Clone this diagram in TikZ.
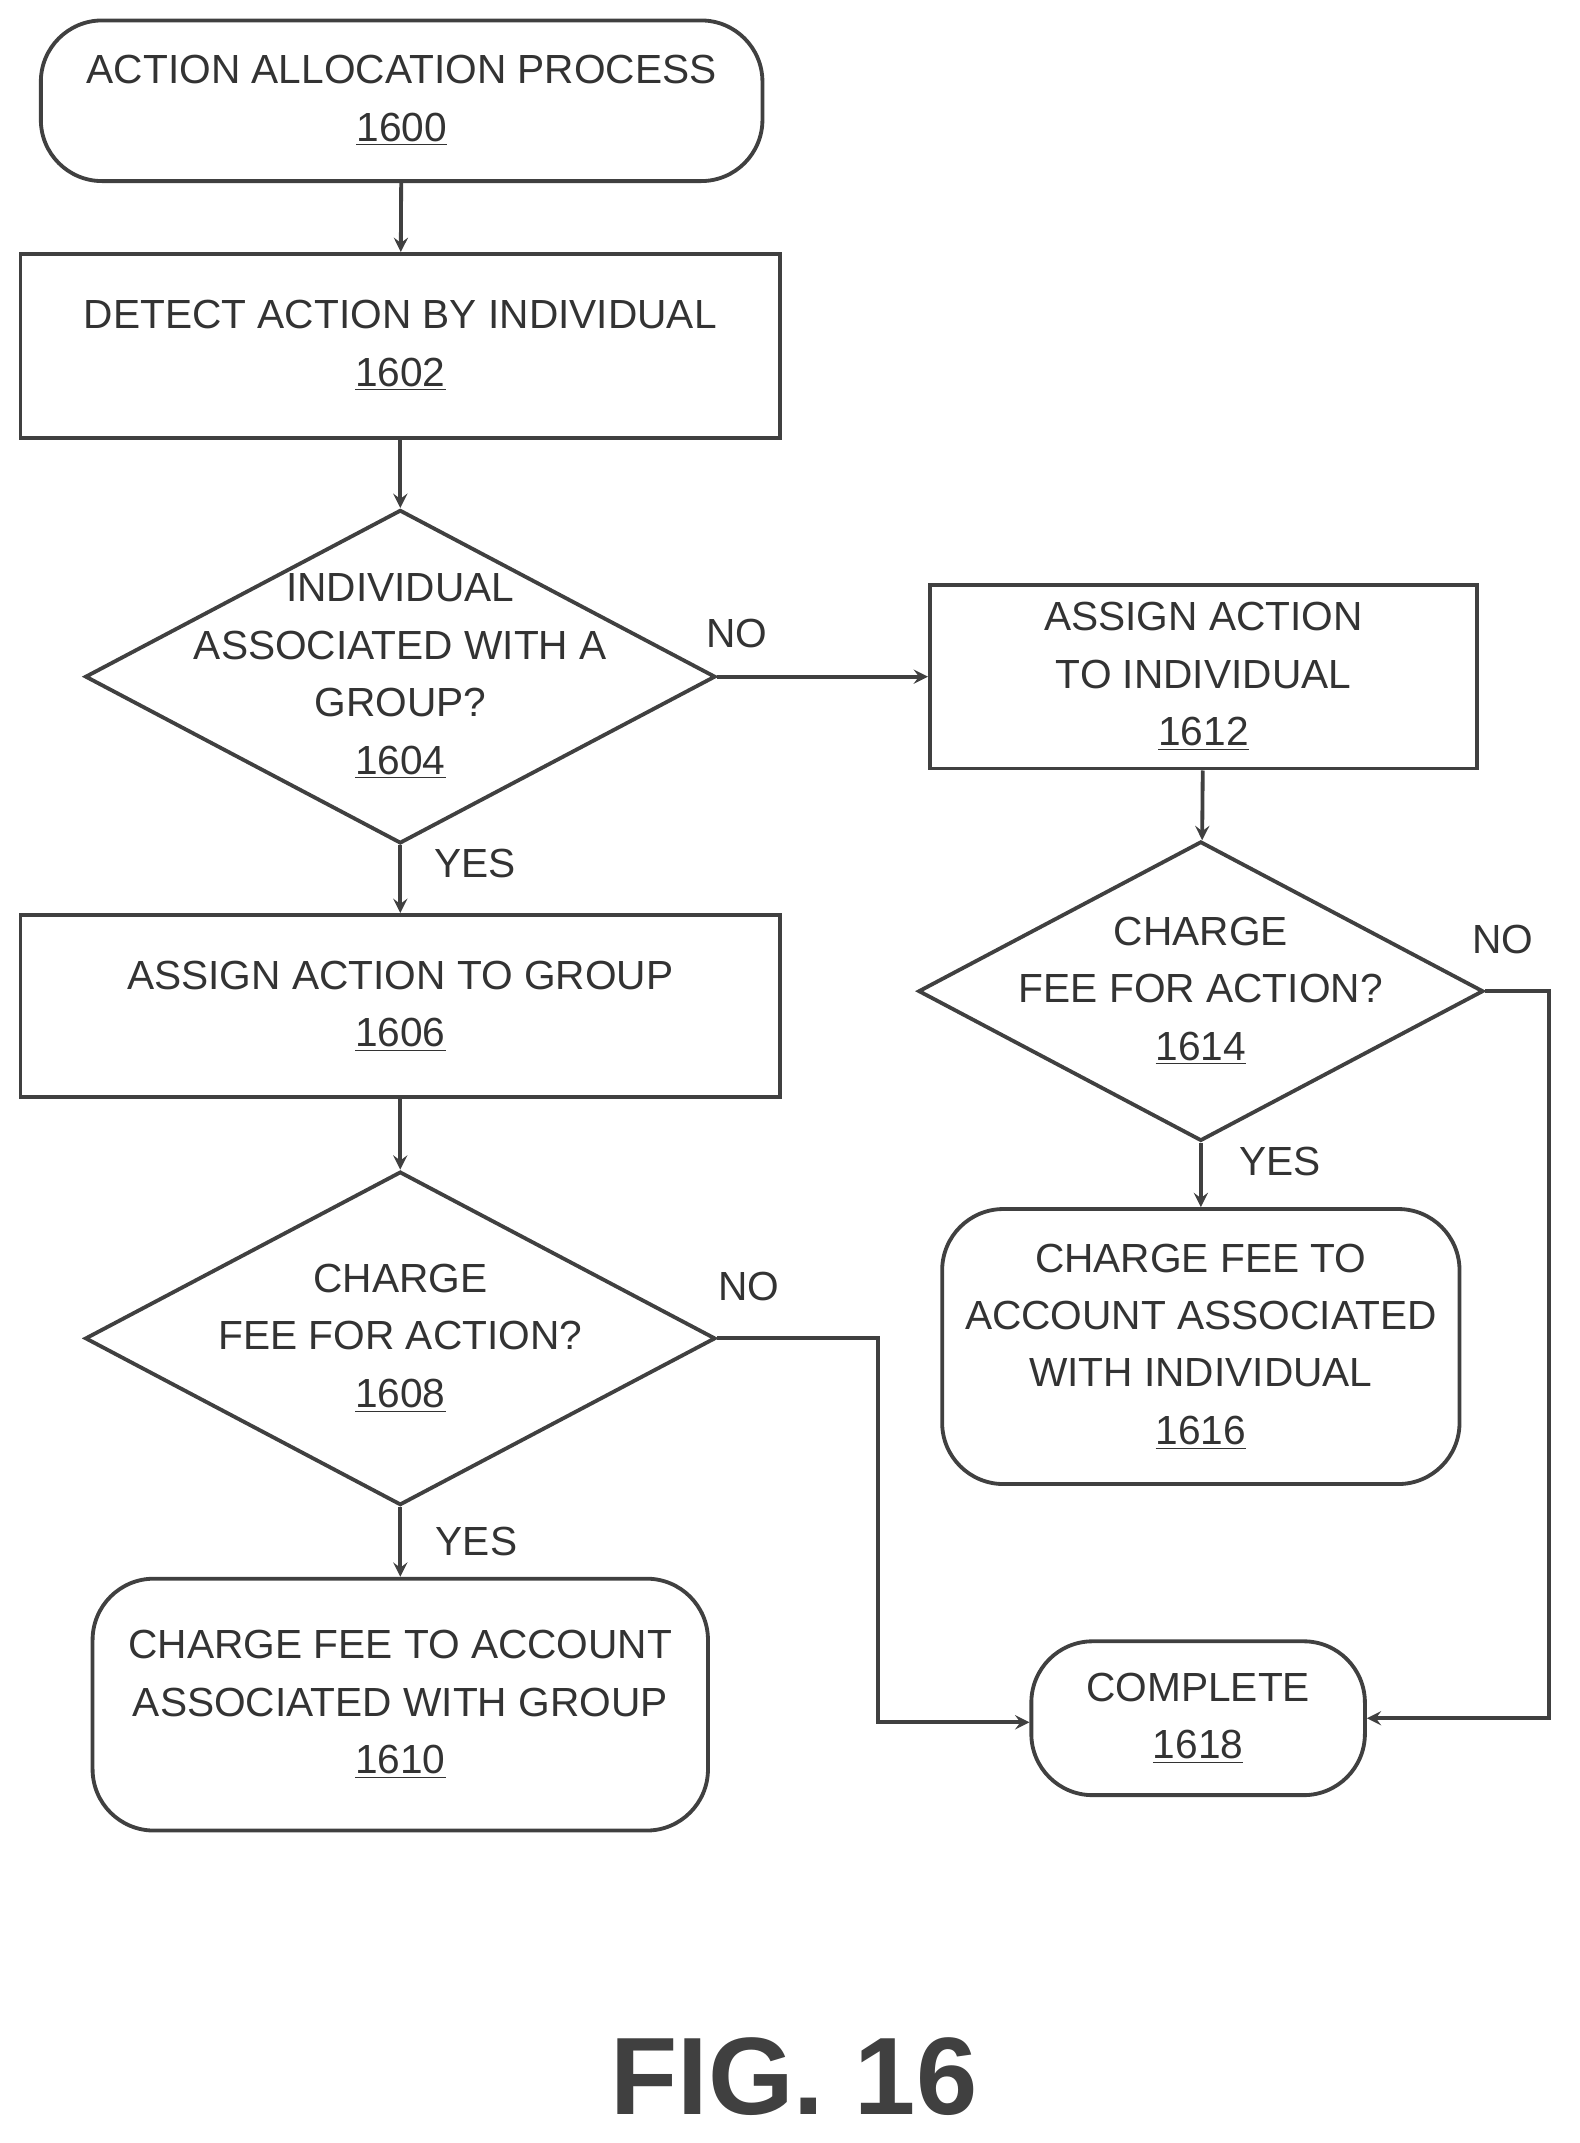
\documentclass[tikz,border=0pt]{standalone}
\usepackage{fontspec}
\setmainfont{Liberation Sans}
\usetikzlibrary{positioning,shapes.geometric,arrows}

\begin{document}
\begin{tikzpicture}
    [%%%%%%%%%%%%%%%%%%%%%%%%%%%%%%
    every node/.style={font=\fontsize{17}{24}\selectfont, align=center, text=black!80},
    box/.style={rectangle,draw=black!75,line width=1.6pt},
    rbox/.style={rectangle,rounded corners=0.9cm,draw=black!75,line width=1.6pt},
    dia/.style={diamond,draw=black!75,line width=1.6pt,inner sep=0pt},
    flow/.style={-stealth,line width=1.6pt,draw=black!75},
    ]%%%%%%%%%%%%%%%%%%%%%%%%%%%%%%

    \useasboundingbox (0,0) rectangle (23.2,-31.48);

    % start
    \node[rbox,minimum width=10.6cm,minimum height=2.36cm] at (5.9,-1.48) (start) {ACTION ALLOCATION PROCESS\\\underline{1600}};
    \node[box,minimum width=11.16cm,minimum height=2.7cm] at (5.88,-5.08) (detect) {DETECT ACTION BY INDIVIDUAL\\\underline{1602}};

    % group check
    \node[dia,minimum width=9.26cm,minimum height=4.9cm] at (5.88,-9.94) (grp) {};
    \node at (grp) (grp_text) {INDIVIDUAL\\ASSOCIATED WITH A\\GROUP?\\\underline{1604}};
    \node[box,minimum width=8.04cm,minimum height=2.7cm] at (17.68,-9.94) (toind) {ASSIGN ACTION\\TO INDIVIDUAL\\\underline{1612}};
    \node[box,minimum width=11.16cm,minimum height=2.68cm] at (5.88,-14.78) (togrp) {ASSIGN ACTION TO GROUP\\\underline{1606}};

    % fee checks
    \node[dia,minimum width=8.3cm,minimum height=4.4cm] at (17.64,-14.56) (feeind) {};
    \node at (feeind) (feeind_text) {CHARGE\\FEE FOR ACTION?\\\underline{1614}};
    \node[dia,minimum width=9.26cm,minimum height=4.9cm] at (5.88,-19.66) (feegrp) {};
    \node at (feegrp) (feegrp_text) {CHARGE\\FEE FOR ACTION?\\\underline{1608}};

    % charge
    \node[rbox,minimum width=7.6cm,minimum height=4.04cm] at (17.64,-19.78) (chind) {CHARGE FEE TO\\ACCOUNT ASSOCIATED\\WITH INDIVIDUAL\\\underline{1616}};
    \node[rbox,minimum width=9.04cm,minimum height=3.7cm] at (5.88,-25.04) (chgrp) {CHARGE FEE TO ACCOUNT\\ASSOCIATED WITH GROUP\\\underline{1610}};
    \node[rbox,minimum width=4.9cm,minimum height=2.26cm] at (17.6,-25.24) (done) {COMPLETE\\\underline{1618}};

    % connectors
    \draw[flow] (start) -- (detect);
    \draw[flow] (detect) -- (grp);
    \draw[flow] (grp) -- (toind);
    \draw[flow] (grp) -- (togrp);
    \draw[flow] (toind) -- (feeind);
    \draw[flow] (togrp) -- (feegrp);
    \draw[flow] (feeind) -- (chind);
    \draw[flow] (feegrp) -- (chgrp);
    \draw[flow] (feegrp.east) -| (12.9,-25.3) -- (done.west |- 12.9,-25.3);
    \draw[flow] (feeind.east) -| (22.76,-25.24) -- (done.east);

    % labels
    \node at (10.82,-9.3) (no1) {NO};
    \node at (6.98,-12.68) (yes1) {YES};
    \node at (22.08,-13.8) (no2) {NO};
    \node at (18.8,-17.06) (yes2) {YES};
    \node at (11.0,-18.9) (no3) {NO};
    \node at (7.0,-22.64) (yes3) {YES};

    % figure title
    \node[font=\fontsize{46}{50}\selectfont\bfseries,text=black!75] at (11.66,-30.5) (fig) {FIG. 16};
\end{tikzpicture}
\end{document}
